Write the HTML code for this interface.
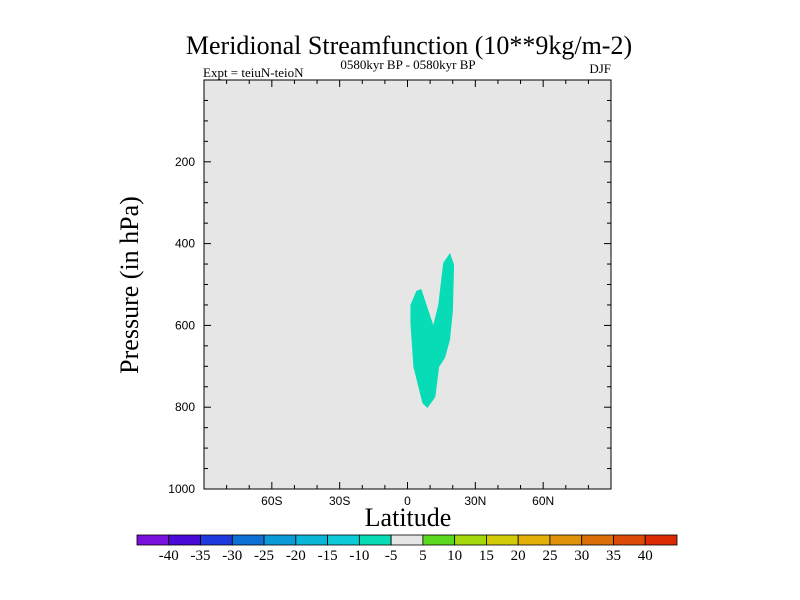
<!DOCTYPE html>
<html><head><meta charset="utf-8"><style>
body{margin:0;background:#fff;}
svg{display:block;}
.serif{font-family:"Liberation Serif",serif;}
.sans{font-family:"Liberation Sans",sans-serif;}
</style></head><body>
<svg id="chart" width="800" height="600" viewBox="0 0 800 600">
<text class="serif" x="409" y="54" font-size="26" text-anchor="middle">Meridional Streamfunction (10**9kg/m-2)</text>
<text class="serif" x="408" y="69" font-size="13" text-anchor="middle">0580kyr BP - 0580kyr BP</text>
<text class="serif" x="203" y="77" font-size="13">Expt = teiuN-teioN</text>
<text class="serif" x="611" y="73" font-size="13" text-anchor="end">DJF</text>
<rect x="204" y="80" width="407" height="409" fill="#e6e6e6"/>
<g id="shapes"></g>
<rect x="204" y="80" width="407" height="409" fill="none" stroke="#000" stroke-width="1"/>
<g id="ticks" stroke="#000" stroke-width="1"></g>
<g id="labels"></g>
<text class="serif" x="408" y="526" font-size="26" text-anchor="middle">Latitude</text>
<text class="serif" transform="translate(138,285) rotate(-90)" font-size="26" text-anchor="middle">Pressure (in hPa)</text>
<g id="colorbar"></g>
</svg>
<script>
const latPts = [1.3,3.9,6.1,11.4,13.6,15.8,18.8,20.6,20.1,18.8,16.6,14.0,12.3,8.8,6.6,2.6,1.3];
const presPts = [550,516,511,599,550,447,423,452,562,635,679,701,775,802,790,701,594];
const xTickVals = [-60,-30,0,30,60];
const xTickLabels = ['60S','30S','0','30N','60N'];
const yTickVals = [200,400,600,800,1000];
const yTickLabels = ['200','400','600','800','1000'];
const cbLevels = [-40,-35,-30,-25,-20,-15,-10,-5,5,10,15,20,25,30,35,40];
const cbColors = ['#7a10dc','#4a0bd8','#1e3ade','#0b6fd6','#0b9bd9','#0ab6d8','#0ccad6','#07dcb6','#e6e6e6','#5ad91e','#a4d80a','#d2cc08','#e2b008','#e09208','#dc6e08','#dc4a08','#dc2a04'];
const NS='http://www.w3.org/2000/svg';
const x = v => 204 + (v + 90) / 180 * 407;
const y = p => 80 + p / 1000 * 409;
function mk(t, a, parent){const e=document.createElementNS(NS,t);for(const k in a)e.setAttribute(k,a[k]);parent.appendChild(e);return e;}
const sh=document.getElementById('shapes');
const poly=mk('polygon',{points:latPts.map((v,i)=>x(v)+','+y(presPts[i])).join(' '),fill:'#07dcb6'},sh);


const tk=document.getElementById('ticks');
for(let v=-90;v<=90;v+=10){const maj=v%30===0;const L=maj?7:4;
 mk('line',{x1:x(v),x2:x(v),y1:80,y2:80+L},tk);mk('line',{x1:x(v),x2:x(v),y1:489,y2:489-L},tk);}
for(let p=0;p<=1000;p+=50){const maj=p%200===0;const L=maj?7:4;
 mk('line',{x1:204,x2:204+L,y1:y(p),y2:y(p)},tk);mk('line',{x1:611,x2:611-L,y1:y(p),y2:y(p)},tk);}
const lb=document.getElementById('labels');
xTickVals.forEach((v,i)=>{const t=mk('text',{x:x(v),y:505,'font-size':12,'text-anchor':'middle',class:'sans'},lb);t.textContent=xTickLabels[i];
 
 });
yTickVals.forEach((v,i)=>{const t=mk('text',{x:195,y:y(v)+4,'font-size':12,'text-anchor':'end',class:'sans'},lb);t.textContent=yTickLabels[i];
 
 });
const cb=document.getElementById('colorbar');
const bw=540/cbColors.length;
cbColors.forEach((c,i)=>{const r=mk('rect',{x:137+i*bw,y:535,width:bw,height:10,fill:c,stroke:'#000','stroke-width':0.8},cb);
 
 });
cbLevels.forEach((v,i)=>{const t=mk('text',{x:137+(i+1)*bw,y:560,'font-size':15,'text-anchor':'middle',class:'serif'},cb);t.textContent=v;
 
 });
</script>
</body></html>
